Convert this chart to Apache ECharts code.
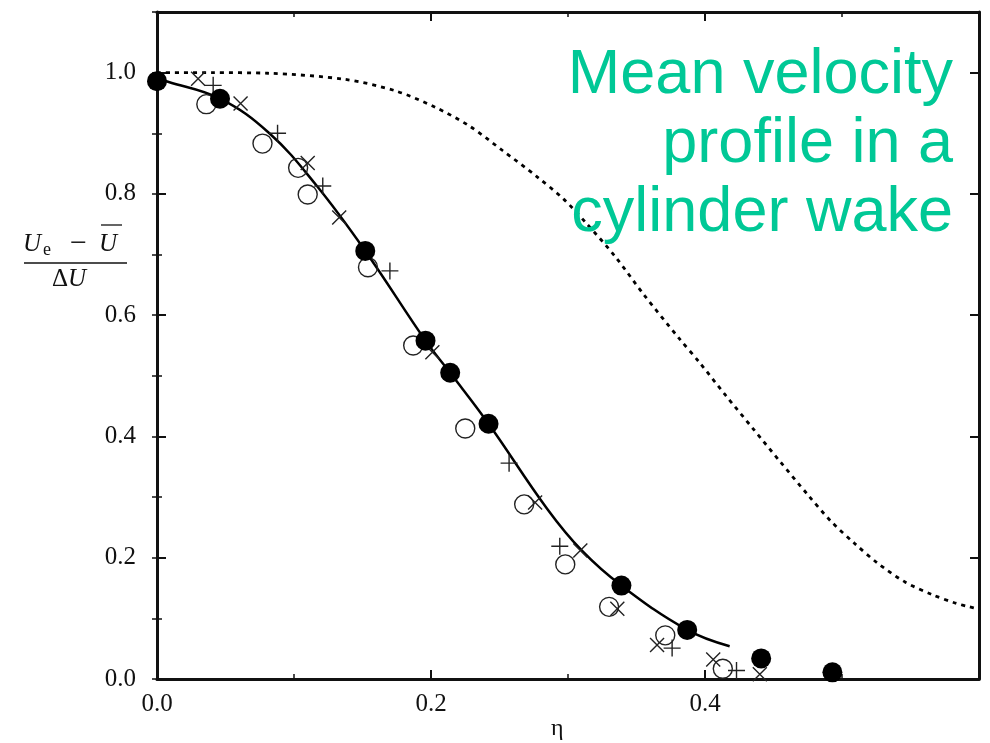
<!DOCTYPE html>
<html><head><meta charset="utf-8">
<script src="https://cdn.jsdelivr.net/npm/echarts@6/dist/echarts.min.js"></script>
<style>html,body{margin:0;padding:0;background:#fff}#c{width:990px;height:743px}</style>
</head><body><div id="c"></div>
<script>
// ---- data ----
const titleLines = ['Mean velocity', 'profile in a', 'cylinder wake'];
const xAxisName = 'η';
const xTickLabels = ['0.0', '0.2', '0.4'];
const yTickLabels = ['0.0', '0.2', '0.4', '0.6', '0.8', '1.0'];

const filledX = [0.000, 0.046, 0.152, 0.196, 0.214, 0.242, 0.339, 0.387, 0.441, 0.493];
const filledY = [0.986, 0.957, 0.706, 0.558, 0.505, 0.421, 0.154, 0.081, 0.034, 0.011];

const openX = [0.036, 0.077, 0.103, 0.110, 0.154, 0.187, 0.225, 0.268, 0.298, 0.330, 0.371, 0.413];
const openY = [0.948, 0.883, 0.843, 0.799, 0.679, 0.550, 0.413, 0.288, 0.189, 0.119, 0.072, 0.017];

const crossX = [0.030, 0.061, 0.110, 0.133, 0.201, 0.276, 0.309, 0.336, 0.365, 0.406, 0.440];
const crossY = [0.990, 0.949, 0.851, 0.761, 0.539, 0.291, 0.212, 0.116, 0.056, 0.032, 0.008];

const plusX = [0.041, 0.088, 0.121, 0.170, 0.257, 0.294, 0.376, 0.423];
const plusY = [0.979, 0.900, 0.813, 0.673, 0.356, 0.219, 0.051, 0.014];

const fitX = [0.000, 0.008, 0.046, 0.082, 0.116, 0.152, 0.196, 0.214, 0.242, 0.285, 0.310, 0.339, 0.387, 0.418];
const fitY = [0.990, 0.985, 0.957, 0.900, 0.815, 0.706, 0.558, 0.505, 0.421, 0.280, 0.212, 0.154, 0.081, 0.054];

const gaussX = [0.000, 0.040, 0.081, 0.137, 0.174, 0.203, 0.228, 0.252, 0.277, 0.297, 0.314, 0.334, 0.356, 0.381, 0.396, 0.415, 0.435, 0.455, 0.475, 0.492, 0.509, 0.526, 0.546, 0.566, 0.583, 0.593, 0.600];
const gaussY = [1.000, 1.000, 0.999, 0.989, 0.970, 0.943, 0.912, 0.872, 0.829, 0.791, 0.750, 0.698, 0.632, 0.562, 0.522, 0.468, 0.413, 0.358, 0.304, 0.260, 0.224, 0.191, 0.160, 0.139, 0.125, 0.119, 0.115];

const zip = (a, b) => a.map((v, i) => [v, b[i]]);

const SERIF = '"Liberation Serif", "DejaVu Serif", serif';
const INK = '#111';
const chart = echarts.init(document.getElementById('c'), null, {renderer: 'canvas'});

const baseY = {
  type: 'value', min: 0, max: 1.1, splitLine: {show: false},
  axisLine: {show: false}, axisLabel: {show: false},
  axisTick: {show: true, inside: true, length: 9, lineStyle: {color: INK, width: 2}}
};

const tickFmt = (labels) => v => {
  const i = Math.round(v / 0.2);
  return (Math.abs(v - i * 0.2) < 1e-6 && i < labels.length) ? labels[i] : '';
};

const option = {
  backgroundColor: '#fff',
  animation: false,
  grid: {left: 157, right: 11, top: 12, bottom: 64, containLabel: false},
  xAxis: [
    {
      type: 'value', min: 0, max: 0.6, interval: 0.2, position: 'bottom',
      splitLine: {show: false},
      axisLine: {show: true, onZero: false, lineStyle: {color: INK, width: 3}},
      axisTick: {show: true, inside: true, length: 9, lineStyle: {color: INK, width: 2}},
      minorTick: {show: true, splitNumber: 2, length: 5, lineStyle: {color: INK, width: 1.5}},
      axisLabel: {show: true, margin: 13, color: INK, fontFamily: SERIF, fontSize: 25, formatter: tickFmt(xTickLabels)}
    },
    {
      type: 'value', min: 0, max: 0.6, interval: 0.2, position: 'top',
      splitLine: {show: false},
      axisLine: {show: true, onZero: false, lineStyle: {color: INK, width: 3}},
      axisTick: {show: true, inside: true, length: 9, lineStyle: {color: INK, width: 2}},
      minorTick: {show: true, splitNumber: 2, length: 5, lineStyle: {color: INK, width: 1.5}},
      axisLabel: {show: false}
    }
  ],
  yAxis: [
    Object.assign({}, baseY, {
      position: 'left', interval: 0.2,
      axisLine: {show: true, onZero: false, lineStyle: {color: INK, width: 3}},
      axisLabel: {show: true, margin: 21, color: INK, fontFamily: SERIF, fontSize: 25, formatter: tickFmt(yTickLabels)}
    }),
    Object.assign({}, baseY, {position: 'left', interval: 0.1, axisTick: {show: true, inside: true, length: 5, lineStyle: {color: INK, width: 1.5}}}),
    Object.assign({}, baseY, {
      position: 'right', interval: 0.2,
      axisLine: {show: true, onZero: false, lineStyle: {color: INK, width: 3}}
    }),
    Object.assign({}, baseY, {position: 'right', interval: 0.1, axisTick: {show: true, inside: true, length: 5, lineStyle: {color: INK, width: 1.5}}})
  ],
  series: [
    {
      name: 'gauss', type: 'line', data: zip(gaussX, gaussY), smooth: 0.3, showSymbol: false, symbol: 'none',
      lineStyle: {color: '#000', width: 2.8, type: [4, 5]}, z: 2
    },
    {
      name: 'fit', type: 'line', data: zip(fitX, fitY), smooth: 0.4, showSymbol: false, symbol: 'none',
      lineStyle: {color: '#000', width: 2.5}, z: 3
    },
    {
      name: 'open', type: 'scatter', data: zip(openX, openY), symbol: 'circle', symbolSize: 19,
      itemStyle: {color: 'rgba(0,0,0,0)', borderColor: '#222', borderWidth: 1.4, opacity: 1}, z: 4
    },
    {
      name: 'cross', type: 'scatter', data: zip(crossX, crossY), symbol: 'path://M0,0L10,10M10,0L0,10', symbolSize: 14,
      itemStyle: {color: 'rgba(0,0,0,0)', borderColor: '#222', borderWidth: 1.4, opacity: 1}, z: 4
    },
    {
      name: 'plus', type: 'scatter', data: zip(plusX, plusY), symbol: 'path://M5,0L5,10M0,5L10,5', symbolSize: 17,
      itemStyle: {color: 'rgba(0,0,0,0)', borderColor: '#222', borderWidth: 1.4, opacity: 1}, z: 4
    },
    {
      name: 'filled', type: 'scatter', data: zip(filledX, filledY), symbol: 'circle', symbolSize: 20,
      itemStyle: {color: '#000', opacity: 1}, z: 5
    }
  ],
  graphic: [
    {type: 'text', right: 37, top: 44, z: 10, style: {text: titleLines[0], fill: '#00C896', font: '63px "Liberation Sans", Arial, sans-serif'}},
    {type: 'text', right: 37, top: 113, z: 10, style: {text: titleLines[1], fill: '#00C896', font: '63px "Liberation Sans", Arial, sans-serif'}},
    {type: 'text', right: 37, top: 182, z: 10, style: {text: titleLines[2], fill: '#00C896', font: '63px "Liberation Sans", Arial, sans-serif'}},
    // y axis name: (U_e − Ū) / ΔU
    {type: 'text', left: 23, top: 232, style: {text: 'U', font: 'italic 25px ' + SERIF, fill: INK}},
    {type: 'text', left: 43, top: 241, style: {text: 'e', font: '18px ' + SERIF, fill: INK}},
    {type: 'text', left: 70, top: 229, style: {text: '−', font: '30px ' + SERIF, fill: INK}},
    {type: 'text', left: 99, top: 232, style: {text: 'U', font: 'italic 25px ' + SERIF, fill: INK}},
    {type: 'line', shape: {x1: 101, y1: 225, x2: 122, y2: 225}, style: {stroke: INK, lineWidth: 1.3}},
    {type: 'line', shape: {x1: 24, y1: 263, x2: 127, y2: 263}, style: {stroke: INK, lineWidth: 1.3}},
    {type: 'text', left: 52, top: 267, style: {text: 'Δ', font: '25px ' + SERIF, fill: INK}},
    {type: 'text', left: 68, top: 267, style: {text: 'U', font: 'italic 25px ' + SERIF, fill: INK}},
    {type: 'text', left: 551, top: 717, style: {text: xAxisName, font: '24px ' + SERIF, fill: INK}}
  ]
};
chart.setOption(option);
</script></body></html>
